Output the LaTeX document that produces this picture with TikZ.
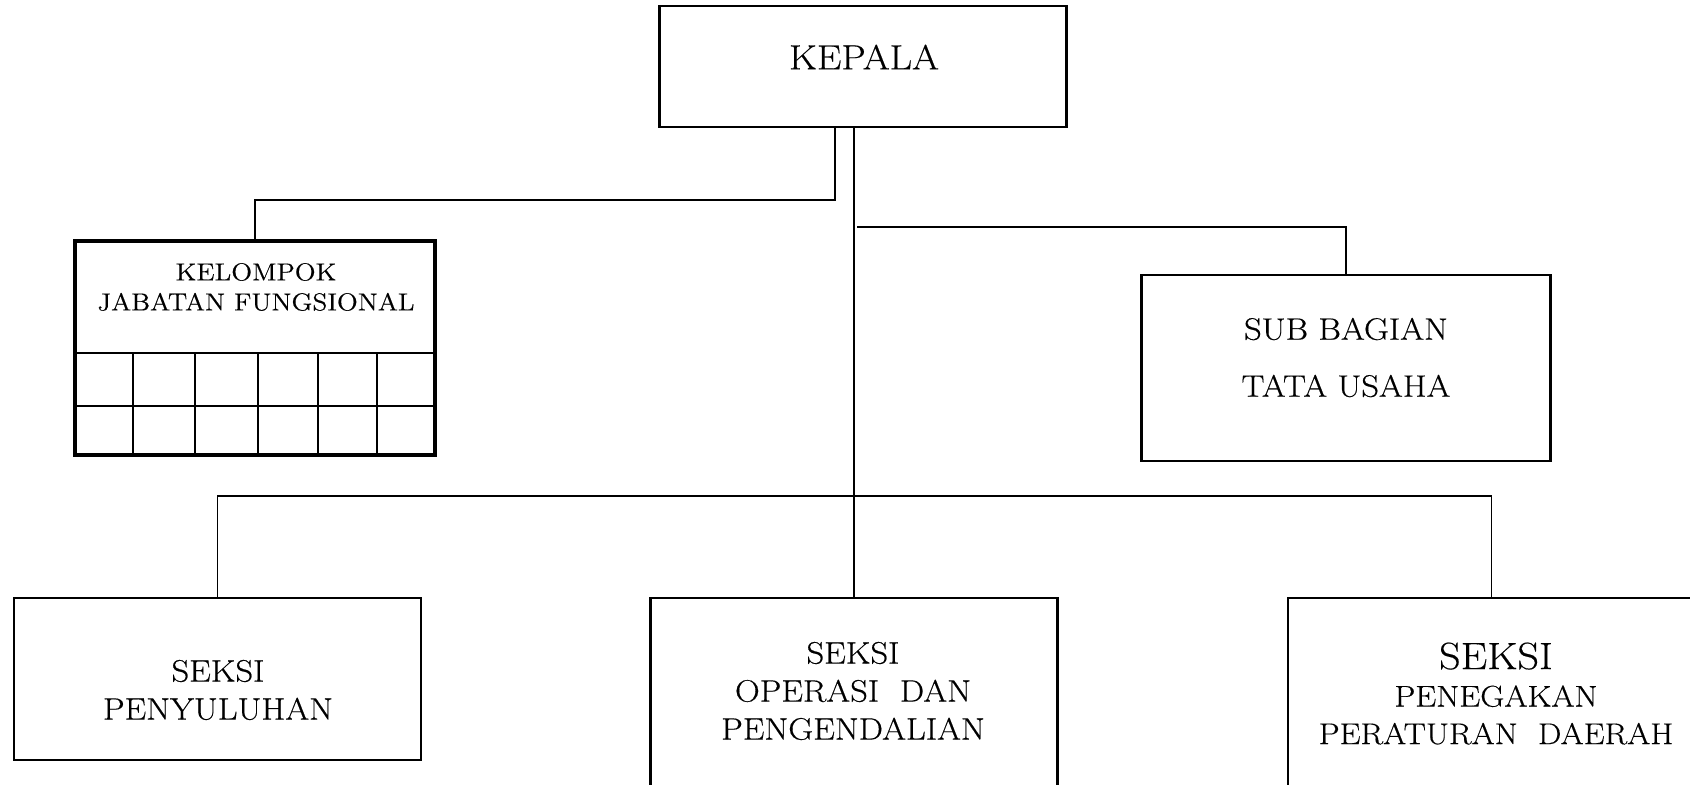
\documentclass[tikz,border=0pt]{standalone}
\usepackage{tikz}
\usepackage{fontspec}
\setmainfont{Latin Modern Roman}[FakeStretch=1.11,FakeBold=0.4]
\usetikzlibrary{calc}
\tikzset{
  unitbox/.style={draw, line width=1.3pt, inner sep=0pt, minimum width=203.5pt},
  unittext/.style={align=center, inner sep=0pt},
  link/.style={line width=0.85pt},
  gridline/.style={line width=0.85pt}
}

\begin{document}
\begin{tikzpicture}[x=0.5pt,y=-0.5pt]
\useasboundingbox (0,0) rectangle (1690,784);
\node[unitbox, minimum height=60.5pt] (kepala) at (863,66.5) {};
\node[unittext, font=\fontsize{17.5}{21}\selectfont] (kepalatxt) at (864,57) {KEPALA};
\node[unitbox, line width=1.65pt, minimum width=180pt, minimum height=107pt] (kelompok) at (255,348) {};
\node[unittext, font=\fontsize{12.3}{15}\selectfont] (kelompoktxt) at (256,287) {KELOMPOK\\JABATAN FUNGSIONAL};
\draw[gridline] (75,353) -- (435,353);
\draw[gridline] (75,406) -- (435,406);
\foreach \gx in {133,195,258,318,377}
  \draw[gridline] (\gx,353) -- (\gx,455);
\node[unitbox, minimum width=204.5pt, minimum height=93pt] (subbag) at (1346,368) {};
\node[unittext, font=\fontsize{15.5}{28.5}\selectfont] (subbagtxt) at (1346,357.5) {SUB BAGIAN\\TATA USAHA};
\node[unitbox, minimum height=81pt] (seksipen) at (217.5,679) {};
\node[unittext, font=\fontsize{15.5}{19}\selectfont] (seksipentxt) at (218,690) {SEKSI\\PENYULUHAN};
\node[unitbox, minimum height=110pt] (seksiops) at (854,708) {};
\node[unittext, font=\fontsize{15.5}{19}\selectfont] (seksiopstxt) at (853,691) {SEKSI\\OPERASI\ \ DAN\\PENGENDALIAN};
\node[unitbox, minimum height=110pt] (seksiperda) at (1491.5,708) {};
\node[unittext, font=\fontsize{15}{18.75}\selectfont] (seksiperdatxt) at (1496,693.5) {{\fontsize{19}{18.75}\selectfont SEKSI}\\PENEGAKAN\\PERATURAN\ \ DAERAH};
\coordinate (jfbend) at (835,200);
\coordinate (tubend) at (857,227);
\coordinate (busl) at (217.5,496);
\draw[link] (kepala.south -| jfbend) -- (jfbend) -| (kelompok.north);
\draw[link] (kepala.south -| seksiops.north) -- (seksiops.north);
\draw[link] (tubend) -| (subbag.north);
\draw[link] (seksipen.north) -- (busl) -| (seksiperda.north);
\end{tikzpicture}
\end{document}
